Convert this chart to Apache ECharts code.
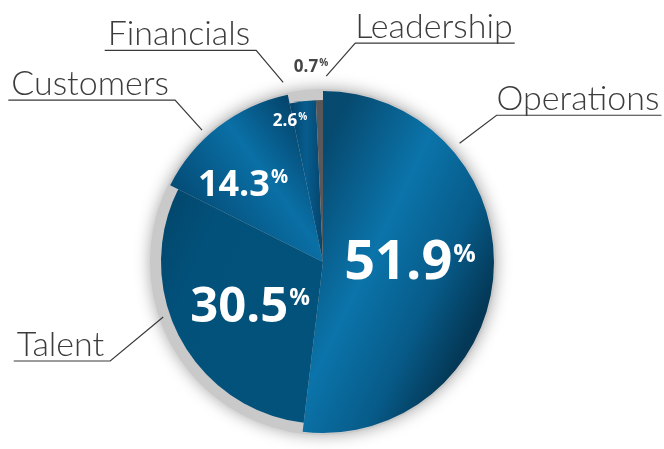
<!DOCTYPE html>
<html><head><meta charset="utf-8">
<script src="https://cdn.jsdelivr.net/npm/echarts@6/dist/echarts.min.js"></script>
<style>html,body{margin:0;padding:0;background:#fff}#c{width:664px;height:449px}</style>
</head><body><div id="c"></div>
<script>
// ---- data ----
const categories = ['Operations', 'Talent', 'Customers', 'Financials', 'Leadership'];
const shares = [51.9, 30.5, 14.3, 2.6, 0.7];

// ---- layout / style ----
const CX = 323, CY = 262;
const R_BIG = 171, R_SMALL = 162, R_BACK = 173;
const bigSet = ['Operations', 'Customers'];
const FONT = '"Open Sans", "Noto Sans", sans-serif';
const NAME_FONT = 'Lato, "Open Sans", sans-serif';

function lin(x, y, x2, y2, stops) {
  return { type: 'linear', x: x, y: y, x2: x2, y2: y2,
    colorStops: stops.map(s => ({ offset: s[0], color: s[1] })) };
}
const fills = {
  Operations: lin(0, 0.3, 1, 0.57, [[0, '#064a70'], [0.42, '#0b74aa'], [0.75, '#075b89'], [1, '#043856']]),
  Talent: lin(0, 0, 1, 0.3, [[0, '#034569'], [0.35, '#02517b'], [1, '#02527c']]),
  Customers: lin(0, 0.85, 1, 0.18, [[0, '#03426a'], [0.15, '#044a74'], [0.6, '#0a70a6'], [0.92, '#04466e'], [1, '#03426a']]),
  Financials: lin(0, 0, 1, 0, [[0, '#04436a'], [0.5, '#075d8e'], [1, '#04446b']]),
  Leadership: '#58585a'
};
// inside value labels: [x, y, number size, % size, color, % drop]
const valueLabelStyle = {
  Operations: [410, 264, 54, 25, '#ffffff', 5],
  Talent: [250, 308, 49, 23, '#ffffff', 3],
  Customers: [243, 186, 36, 19, '#ffffff', 0],
  Financials: [290, 121, 17, 10, '#ffffff', 0],
  Leadership: [311, 67, 17, 10, '#454545', 0]
};
// outer name labels: [anchor angle deg (clockwise from 12 o'clock), anchor radius, elbow dx, elbow dy, side]
const nameLabelStyle = {
  Operations: [49, 181, 37, -28, 'right'],
  Talent: [251, 169, -53, 44, 'left'],
  Customers: [317.5, 179, -27, -30, 'left'],
  Financials: [347.5, 184, -27, -32, 'left'],
  Leadership: [1, 186, 29, -33, 'right']
};

const chart = echarts.init(document.getElementById('c'), null, { renderer: 'canvas' });

function valueRich(name) {
  const s = valueLabelStyle[name];
  const bottomPad = Math.max(0, s[2] - s[3] - 2 * s[5]);
  return {
    v: { fontSize: s[2], fontWeight: 700, color: s[4], fontFamily: FONT, lineHeight: s[2] },
    p: { fontSize: s[3], fontWeight: 700, color: s[4], fontFamily: FONT,
         lineHeight: s[3], padding: [0, 0, bottomPad, 1] }
  };
}

function sliceData(set) {
  return categories.map((c, i) => {
    const on = set.indexOf(c) >= 0;
    return {
      name: c, value: shares[i],
      itemStyle: { color: on ? fills[c] : 'rgba(0,0,0,0)' },
      label: on ? { show: true, rich: valueRich(c) } : { show: false }
    };
  });
}

function valueLayout(params) {
  const name = categories[params.dataIndex];
  const s = valueLabelStyle[name];
  return { x: s[0], y: s[1], align: 'center', verticalAlign: 'middle' };
}

const commonPie = {
  type: 'pie', center: [CX, CY], startAngle: 90, clockwise: true,
  avoidLabelOverlap: false, silent: true, animation: false,
  emphasis: { disabled: true }, labelLine: { show: false }
};

const option = {
  backgroundColor: '#ffffff',
  animation: false,
  series: [
    Object.assign({}, commonPie, {
      radius: R_BACK, z: 1,
      data: [{ value: 1, name: 'bg', itemStyle: { color: '#c9c9c9', shadowBlur: 16, shadowColor: 'rgba(0,0,0,0.35)' } }],
      label: { show: false }
    }),
    Object.assign({}, commonPie, {
      radius: R_BIG, z: 2,
      data: sliceData(bigSet),
      label: { show: true, position: 'inside', formatter: p => '{v|' + p.value.toFixed(1) + '}{p|%}' },
      labelLayout: valueLayout
    }),
    Object.assign({}, commonPie, {
      radius: R_SMALL, z: 3,
      data: sliceData(categories.filter(c => bigSet.indexOf(c) < 0)),
      label: { show: true, position: 'inside', formatter: p => '{v|' + p.value.toFixed(1) + '}{p|%}' },
      labelLayout: valueLayout
    }),
    Object.assign({}, commonPie, {
      radius: R_BIG, z: 4,
      data: categories.map((c, i) => ({ name: c, value: shares[i], itemStyle: { color: 'rgba(0,0,0,0)' } })),
      label: { show: true, position: 'outside', formatter: '{b}', fontFamily: NAME_FONT, fontWeight: 300,
               fontSize: 34, color: '#3c3c3c', lineHeight: 38 },
      labelLine: { show: true, length: 20, length2: 20, smooth: false,
                   lineStyle: { color: '#3a3a3a', width: 1.2 } },
      labelLayout: function (params) {
        const name = categories[params.dataIndex];
        const s = nameLabelStyle[name];
        const a = s[0] * Math.PI / 180;
        const p0 = [CX + s[1] * Math.sin(a), CY - s[1] * Math.cos(a)];
        const p1 = [p0[0] + s[2], p0[1] + s[3]];
        const w = params.labelRect.width;
        let p2, lx, al;
        if (s[4] === 'right') { lx = p1[0]; al = 'left'; p2 = [p1[0] + w + 2, p1[1]]; }
        else { lx = p1[0] - 6; al = 'right'; p2 = [p1[0] - w - 9, p1[1]]; }
        return { x: lx, y: p1[1] + 3, align: al, verticalAlign: 'bottom', labelLinePoints: [p0, p1, p2] };
      }
    })
  ]
};
chart.setOption(option);
</script></body></html>
